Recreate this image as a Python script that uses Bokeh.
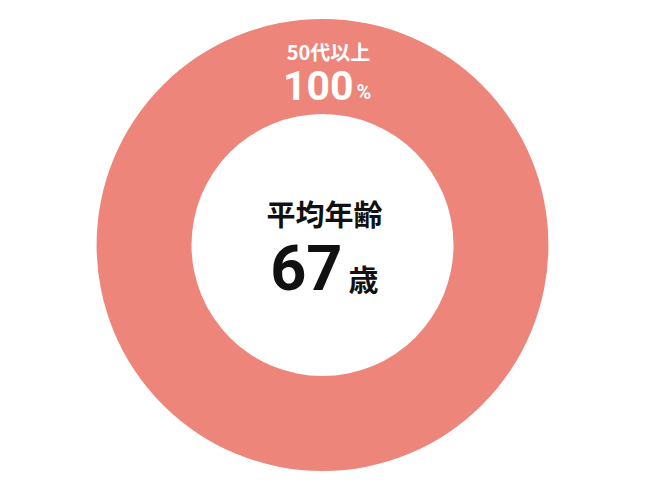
import math
from bokeh.plotting import figure
from bokeh.models import Range1d, ColumnDataSource
from bokeh.core.properties import value
from bokeh.embed import file_html
from bokeh.resources import INLINE

# ---- data ----
categories = ["50代以上"]
values = [100]
colors = ["#ED857B"]
center_title = "平均年齢"
average_age = 67
age_unit = "歳"

W, H = 634, 484
p = figure(width=W, height=H, output_backend="svg", toolbar_location=None,
           x_range=Range1d(0, W), y_range=Range1d(0, H), min_border=0)
p.axis.visible = False
p.grid.visible = False
p.outline_line_color = None
p.background_fill_color = "white"
p.border_fill_color = "white"

Y0 = 486  # data y = Y0 - screen y
cx, cy = 322, Y0 - 246.5
r_out, r_in = 226, 131

total = sum(values)
starts, ends, cum = [], [], 0.0
for v in values:
    a0 = math.pi / 2 - 2 * math.pi * cum / total
    cum += v
    a1 = math.pi / 2 - 2 * math.pi * cum / total
    starts.append(a0)
    ends.append(a1)

src = ColumnDataSource(dict(cat=categories, val=values, start=starts, end=ends, color=colors))
p.annular_wedge(x=cx, y=cy, inner_radius=r_in, outer_radius=r_out,
                start_angle="start", end_angle="end", direction="clock",
                fill_color="color", line_color=None, source=src)

jp = value("Noto Sans CJK JP")
num = value("Roboto")

# slice label
p.text(x=[328], y=[Y0 - 52.5], text=[categories[0]], text_font=jp,
       text_font_size="20px", text_font_style="bold", text_color="white",
       text_align="center", text_baseline="middle")
p.text(x=[353], y=[Y0 - 87], text=[f"{values[0] / total * 100:.0f}"], text_font=num,
       text_font_size="41px", text_font_style="bold", text_color="white",
       text_align="right", text_baseline="middle")
p.text(x=[356], y=[Y0 - 93.5], text=["%"], text_font=num,
       text_font_size="20px", text_font_style="bold", text_color="white",
       text_align="left", text_baseline="middle")

# center labels
p.text(x=[324], y=[Y0 - 214.5], text=[center_title], text_font=jp,
       text_font_size="29px", text_font_style="bold", text_color="#111111",
       text_align="center", text_baseline="middle")
p.text(x=[342], y=[Y0 - 268.5], text=[str(average_age)], text_font=num,
       text_font_size="63px", text_font_style="bold", text_color="#111111",
       text_align="right", text_baseline="middle")
p.text(x=[348], y=[Y0 - 279], text=[age_unit], text_font=jp,
       text_font_size="30px", text_font_style="bold", text_color="#111111",
       text_align="left", text_baseline="middle")

open("out.html", "w").write(file_html(p, INLINE))
